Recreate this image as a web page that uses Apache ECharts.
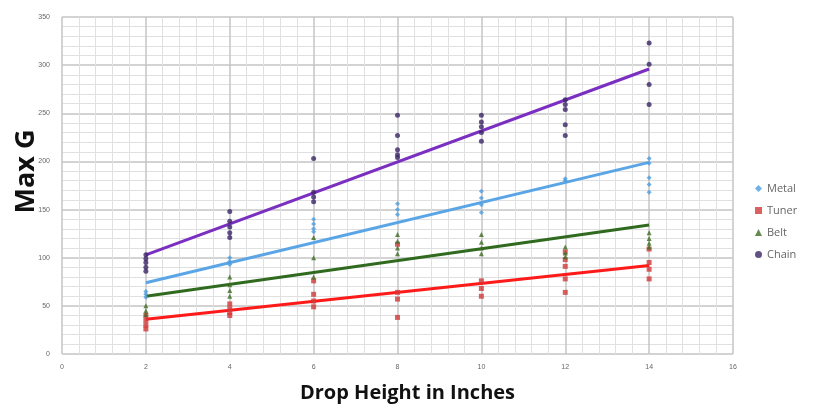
<!DOCTYPE html>
<html>
<head>
<meta charset="utf-8">
<script src="https://cdn.jsdelivr.net/npm/echarts@6/dist/echarts.min.js"></script>
<style>
html,body{margin:0;padding:0;background:#fff;}
#c{width:818px;height:408px;}
</style>
</head>
<body>
<div id="c"></div>
<script>
// Drop heights (inches) where measurements were taken
const heights = [2, 4, 6, 8, 10, 12, 14];
const seriesNames = ['Metal', 'Tuner', 'Belt', 'Chain'];
const xTicks = [0, 2, 4, 6, 8, 10, 12, 14, 16];
const yTicks = [0, 50, 100, 150, 200, 250, 300, 350];

// Measured Max G readings, one list per drop height
const metalPts = [[65, 62, 59], [100, 96, 93], [140, 135, 130, 127], [156, 150, 145], [169, 162, 155, 147], [182, 180], [203, 198, 183, 176, 168]];
const tunerPts = [[40, 35, 30, 26], [52, 47, 43, 40], [76, 62, 55, 49], [114, 64, 57, 38], [76, 68, 60], [106, 98, 91, 78, 64], [109, 95, 88, 78]];
const beltPts  = [[50, 45, 41], [80, 72, 66, 60], [121, 100, 80], [124, 117, 110, 104], [124, 116, 110, 104], [111, 105, 101], [126, 120, 115, 111]];
const chainPts = [[103, 99, 95, 90, 86], [148, 138, 132, 126, 121], [203, 168, 163, 158], [248, 227, 212, 207, 204], [248, 241, 236, 230, 221], [264, 259, 254, 238, 227], [323, 301, 280, 259]];

// Linear trend lines, at first and last height
const trendX = [2, 14];
const metalTrend = [74, 199];
const tunerTrend = [36, 92];
const beltTrend  = [60, 134];
const chainTrend = [103, 296];

function pairs(pts) {
  const out = [];
  pts.forEach((vals, i) => vals.forEach(v => out.push([heights[i], v])));
  return out;
}
function trend(vals) { return trendX.map((x, i) => [x, vals[i]]); }

const colors = {
  Metal: {mark: '#4b9de0', line: '#5aa5e6', sym: 'diamond'},
  Tuner: {mark: '#d23a3a', line: '#ff1a1a', sym: 'rect'},
  Belt:  {mark: '#3f6d24', line: '#2f6a1e', sym: 'triangle'},
  Chain: {mark: '#3b2566', line: '#7a2fc0', sym: 'circle'}
};
const ptsBy = {Metal: metalPts, Tuner: tunerPts, Belt: beltPts, Chain: chainPts};
const trendBy = {Metal: metalTrend, Tuner: tunerTrend, Belt: beltTrend, Chain: chainTrend};

const series = [];
seriesNames.forEach(n => {
  series.push({
    name: n + ' trend', type: 'line', data: trend(trendBy[n]),
    showSymbol: false, symbol: 'none', silent: true,
    lineStyle: {color: colors[n].line, width: 3}, z: 2
  });
});
seriesNames.forEach(n => {
  series.push({
    name: n, type: 'scatter', data: pairs(ptsBy[n]),
    symbol: colors[n].sym, symbolSize: 5,
    itemStyle: {color: colors[n].mark}, z: 3
  });
});

const chart = echarts.init(document.getElementById('c'), null, {renderer: 'canvas'});
chart.setOption({
  animation: false,
  backgroundColor: '#fff',
  grid: {left: 62, right: 85, top: 17, bottom: 53, containLabel: false},
  legend: {
    data: seriesNames, orient: 'vertical', left: 750, top: 178,
    itemWidth: 7, itemHeight: 7, itemGap: 11,
    textStyle: {fontFamily: 'Open Sans', fontSize: 11, color: '#666'}
  },
  xAxis: {
    type: 'value', min: xTicks[0], max: xTicks[xTicks.length - 1], interval: 2,
    name: 'Drop Height in Inches', nameLocation: 'middle', nameGap: 29,
    nameMoveOverlap: false,
    nameTextStyle: {fontFamily: 'Open Sans', fontWeight: 'bold', fontSize: 20, color: '#111', padding: [0, 0, 0, 20]},
    axisLine: {show: false}, axisTick: {show: false},
    axisLabel: {fontSize: 7, color: '#666', margin: 10},
    splitLine: {show: true, lineStyle: {color: '#c4c4c4', width: 1.5}},
    minorTick: {show: false, splitNumber: 5},
    minorSplitLine: {show: true, lineStyle: {color: '#e0e0e0', width: 1}}
  },
  yAxis: {
    type: 'value', min: yTicks[0], max: yTicks[yTicks.length - 1], interval: 50,
    name: 'Max G', nameLocation: 'middle', nameGap: 22, nameRotate: 90,
    nameMoveOverlap: false,
    nameTextStyle: {fontFamily: 'Open Sans', fontWeight: 'bold', fontSize: 27, color: '#111', padding: [0, 0, 0, 28]},
    axisLine: {show: false}, axisTick: {show: false},
    axisLabel: {fontSize: 7, color: '#666', margin: 12},
    splitLine: {show: true, lineStyle: {color: '#c4c4c4', width: 1.5}},
    minorTick: {show: false, splitNumber: 5},
    minorSplitLine: {show: true, lineStyle: {color: '#e0e0e0', width: 1}}
  },
  series: series
});
</script>
</body>
</html>
